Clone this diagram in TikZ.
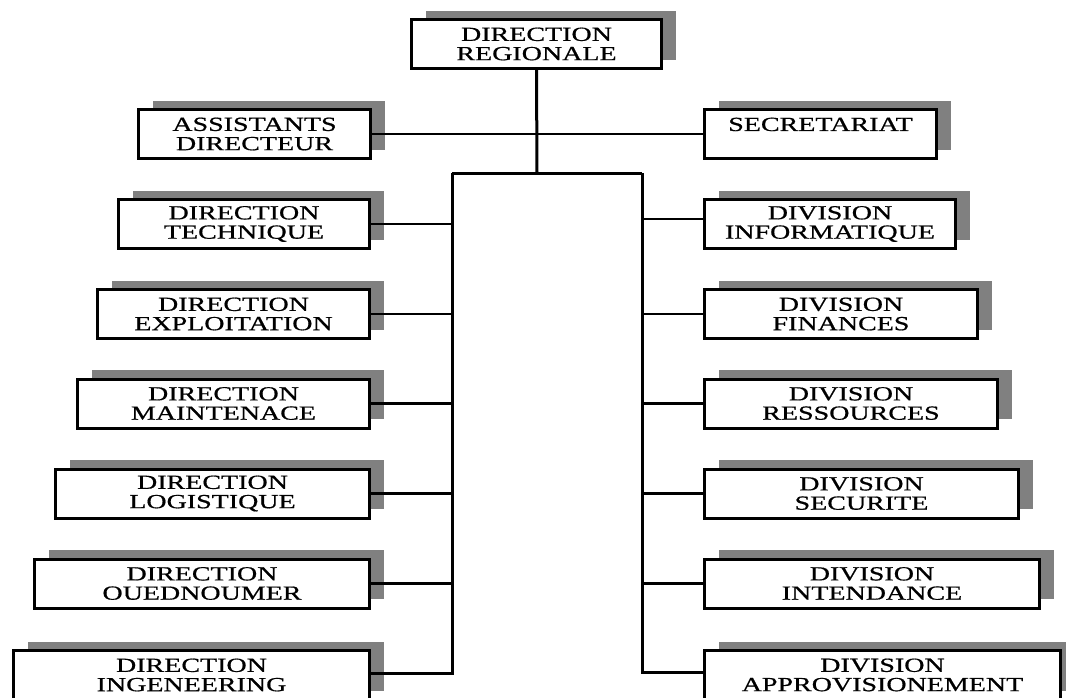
\documentclass[tikz,border=0pt]{standalone}
\usepackage{fontspec}
\setmainfont{Liberation Serif}
\newfontfamily\boxfont[FakeStretch=1.4, FakeBold=0.7]{Liberation Serif}
\usetikzlibrary{shadows}
\tikzset{
  orgbox/.style={draw=black, line width=3pt, fill=white, minimum height=49pt,
    inner sep=0pt, align=center,
    font={\boxfont\fontsize{20}{19.3}\selectfont},
    drop shadow={shadow xshift=14pt, shadow yshift=9pt, fill=black!50, opacity=1}},
  conn/.style={draw=black, line width=2.2pt},
  trunk/.style={draw=black, line width=3pt, line join=miter},
}
\begin{document}
\begin{tikzpicture}[x=1pt, y=-1pt]
\clip (0,0) rectangle (1066,697);
\fill[white] (0,0) rectangle (1066,697);

% top
\node[orgbox, minimum width=250pt] (reg) at (536.5,44) {DIRECTION\\REGIONALE};
\node[orgbox, minimum width=232pt] (ass) at (254.5,134) {ASSISTANTS\\DIRECTEUR};
\node[orgbox, minimum width=232pt] (sec) at (820.5,134) {SECRETARIAT\\\phantom{X}};

% left column
\node[orgbox, minimum width=251pt] (tech) at (244,224) {DIRECTION\\TECHNIQUE};
\node[orgbox, minimum width=272pt] (expl) at (233.5,314) {DIRECTION\\EXPLOITATION};
\node[orgbox, minimum width=292pt] (maint) at (223.5,403.5) {DIRECTION\\MAINTENACE};
\node[orgbox, minimum width=314pt] (logi) at (212.5,493.5) {DIRECTION\\LOGISTIQUE};
\node[orgbox, minimum width=335pt] (oued) at (202,583.5) {DIRECTION\\OUEDNOUMER};
\node[orgbox, minimum width=356pt] (inge) at (191.5,675) {DIRECTION\\INGENEERING};

% right column
\node[orgbox, minimum width=251pt] (info) at (830,224) {DIVISION\\INFORMATIQUE};
\node[orgbox, minimum width=273pt] (fin) at (841,314) {DIVISION\\FINANCES};
\node[orgbox, minimum width=293pt] (ress) at (851,403.5) {DIVISION\\RESSOURCES};
\node[orgbox, minimum width=314pt] (secu) at (861.5,493.5) {DIVISION\\SECURITE};
\node[orgbox, minimum width=335pt] (inte) at (872,583.5) {DIVISION\\INTENDANCE};
\node[orgbox, minimum width=356pt] (appr) at (882.5,675) {DIVISION\\APPROVISIONEMENT};

% trunk coordinates
\coordinate (hub) at (537,173);
\coordinate (tl) at (452,173);
\coordinate (tr) at (642,173);

\draw[conn] (ass.east) -- (sec.west);
\draw[trunk] (reg.south) -- (hub);
\draw[trunk] (tl) -- (tr);
\draw[trunk] (tl) -- ([yshift=1.5pt]tl |- inge.east) -- ([yshift=1.5pt]inge.east);
\draw[trunk] (tr) -- ([yshift=2.5pt]tr |- appr.west) -- ([yshift=2.5pt]appr.west);

\foreach \n in {tech,expl,maint,logi,oued}
  \draw[conn] (\n.east) -- (\n.east -| tl);
\draw[conn] ([yshift=5pt]info.west) -- ([yshift=5pt]info.west -| tr);
\foreach \n in {fin,ress,secu,inte}
  \draw[conn] (\n.west) -- (\n.west -| tr);
\end{tikzpicture}
\end{document}
